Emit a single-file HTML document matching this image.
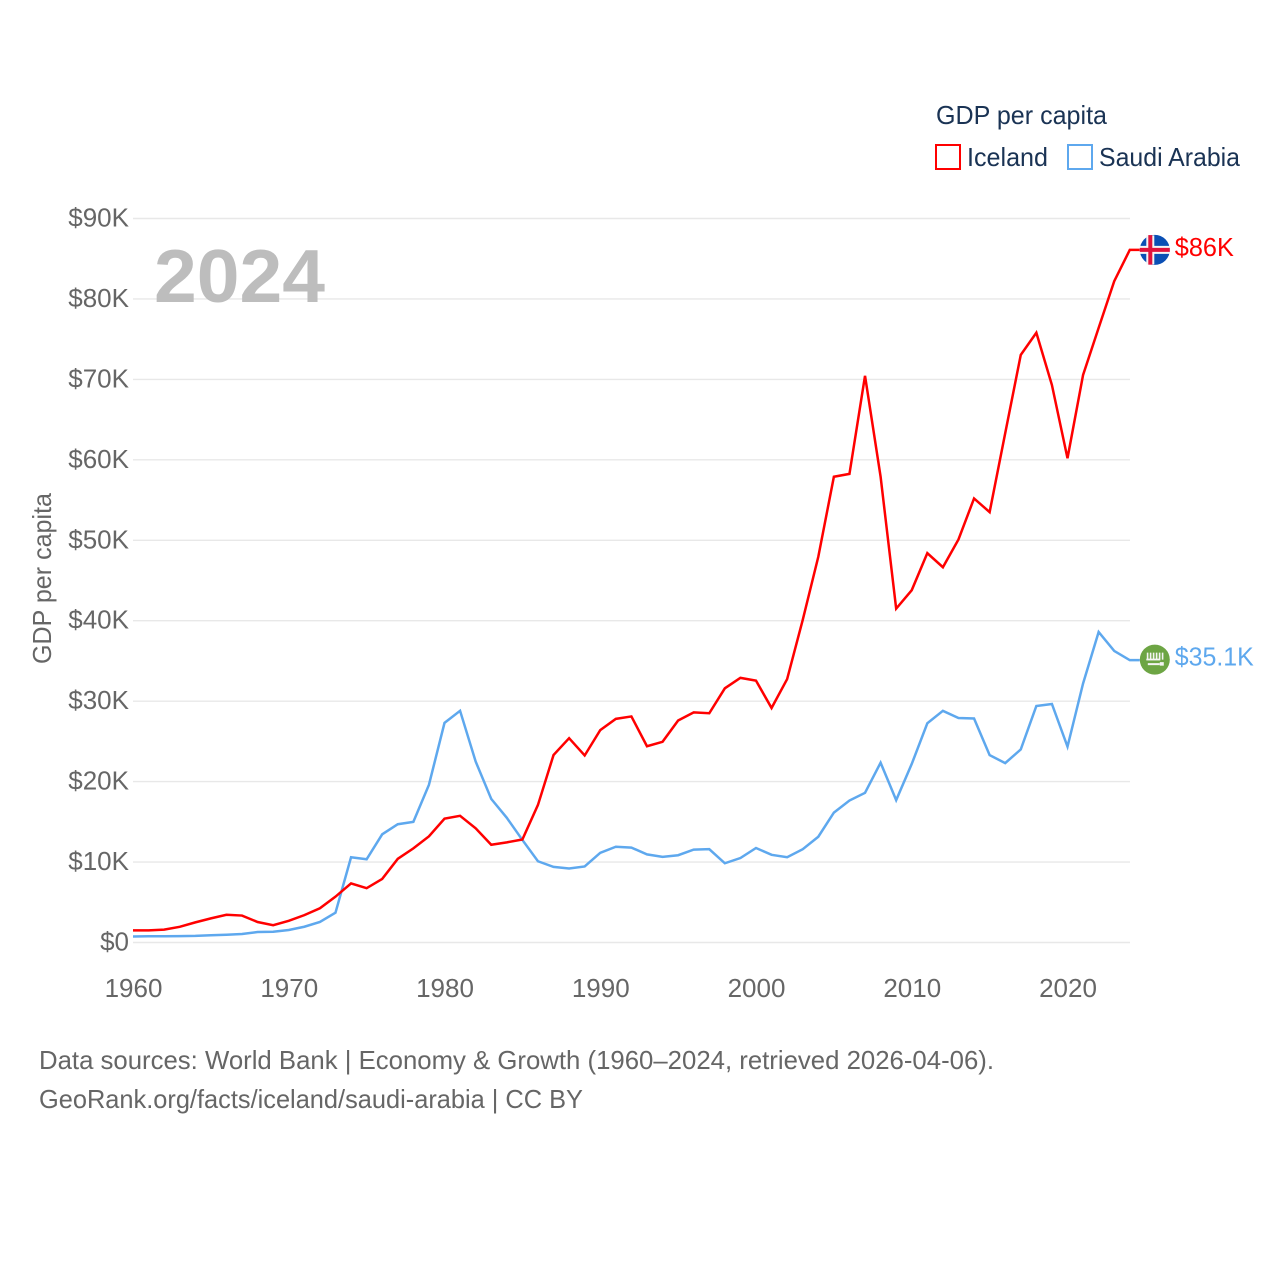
<!DOCTYPE html>
<html lang="en">
<head>
<meta charset="utf-8">
<title>GDP per capita: Iceland vs Saudi Arabia</title>
<style>
html,body{margin:0;padding:0;background:#fff;}
svg{display:block;font-family:"Liberation Sans",sans-serif;}
</style>
</head>
<body>
<svg id="chart" width="1280" height="1280" viewBox="0 0 1280 1280" xmlns="http://www.w3.org/2000/svg">
  <rect width="1280" height="1280" fill="#fff"/>
  <g id="grid"></g>
  <text x="154" y="302" font-size="75" font-weight="700" fill="#bdbdbd" textLength="171" lengthAdjust="spacingAndGlyphs">2024</text>
  <g id="yticks"></g>
  <g id="xticks"></g>
  <text transform="translate(51,664) rotate(-90)" font-size="26" fill="#666" textLength="171" lengthAdjust="spacingAndGlyphs">GDP per capita</text>
  <g id="series"></g>
  <g id="endmarks"></g>
  <g>
    <text x="936" y="124" font-size="26" fill="#1a3354" textLength="171" lengthAdjust="spacingAndGlyphs">GDP per capita</text>
    <g>
      <rect x="936" y="145" width="24" height="24" fill="#fff" stroke="#ff0000" stroke-width="2"/>
      <text x="967" y="166" font-size="26" fill="#1a3354" textLength="81" lengthAdjust="spacingAndGlyphs">Iceland</text>
    </g>
    <g>
      <rect x="1068" y="145" width="24" height="24" fill="#fff" stroke="#5ea8ee" stroke-width="2"/>
      <text x="1099" y="166" font-size="26" fill="#1a3354" textLength="141" lengthAdjust="spacingAndGlyphs">Saudi Arabia</text>
    </g>
  </g>
  <text x="39" y="1069" font-size="26" fill="#666" textLength="955" lengthAdjust="spacingAndGlyphs">Data sources: World Bank | Economy &amp; Growth (1960–2024, retrieved 2026-04-06).</text>
  <text x="39" y="1108" font-size="26" fill="#666" textLength="544" lengthAdjust="spacingAndGlyphs">GeoRank.org/facts/iceland/saudi-arabia | CC BY</text>
</svg>
<script>
const startYear = 1960;
const yTickValues = [0, 10, 20, 30, 40, 50, 60, 70, 80, 90];
const yTickLabels = ["$0", "$10K", "$20K", "$30K", "$40K", "$50K", "$60K", "$70K", "$80K", "$90K"];
const xTickValues = [1960, 1970, 1980, 1990, 2000, 2010, 2020];
const xTickLabels = ["1960", "1970", "1980", "1990", "2000", "2010", "2020"];
const icelandValues = [
  1.5, 1.5, 1.6, 1.95, 2.5, 3.0, 3.45, 3.35, 2.55, 2.15,
  2.7, 3.4, 4.25, 5.7, 7.35, 6.75, 7.9, 10.4, 11.7, 13.2,
  15.4, 15.75, 14.2, 12.15, 12.45, 12.8, 17.1, 23.3, 25.4, 23.25,
  26.4, 27.8, 28.1, 24.4, 24.95, 27.6, 28.6, 28.5, 31.6, 32.9,
  32.55, 29.15, 32.75, 40.1, 47.95, 57.9, 58.25, 70.45, 57.9, 41.5,
  43.8, 48.4, 46.65, 50.1, 55.2, 53.5, 63.3, 73.05, 75.8, 69.3,
  60.2, 70.55, 76.4, 82.2, 86.1
];
const saudiValues = [
  0.75, 0.77, 0.78, 0.79, 0.82, 0.9, 0.97, 1.05, 1.3, 1.33,
  1.55, 1.96, 2.55, 3.7, 10.6, 10.35, 13.45, 14.7, 15.0, 19.6,
  27.3, 28.8, 22.5, 17.85, 15.5, 12.75, 10.1, 9.4, 9.2, 9.45,
  11.15, 11.9, 11.8, 10.95, 10.65, 10.85, 11.55, 11.6, 9.85, 10.5,
  11.75, 10.9, 10.6, 11.6, 13.15, 16.15, 17.65, 18.6, 22.35, 17.7,
  22.2, 27.25, 28.8, 27.9, 27.85, 23.3, 22.3, 24.0, 29.4, 29.65,
  24.35, 32.2, 38.6, 36.25, 35.1
];
const icelandEndLabel = "$86K";
const saudiEndLabel = "$35.1K";

const NS = "http://www.w3.org/2000/svg";
function xScale(year) { return 133 + (year - 1960) * 15.575; }
function yScale(v) { return 942.5 - v * 8.0444; }
function make(tag, attrs, parent) {
  const el = document.createElementNS(NS, tag);
  for (const k in attrs) el.setAttribute(k, attrs[k]);
  parent.appendChild(el);
  return el;
}

const grid = document.getElementById("grid");
const yticks = document.getElementById("yticks");
yTickValues.forEach(function (v, i) {
  const line = make("line", { x1: 133, x2: 1130, y1: yScale(v), y2: yScale(v), stroke: "#e8e8e8", "stroke-width": 1.4 }, grid);
  
  
  const label = make("text", { x: 129, y: yScale(v) + 8, "text-anchor": "end", "font-size": 26, fill: "#666" }, yticks);
  
  
  label.textContent = yTickLabels[i];
});

const xticks = document.getElementById("xticks");
xTickValues.forEach(function (year, i) {
  const label = make("text", { x: xScale(year) + 0.5, y: 997, "text-anchor": "middle", "font-size": 26, fill: "#666" }, xticks);
  
  
  label.textContent = xTickLabels[i];
});

const seriesGroup = document.getElementById("series");
function drawSeries(values, color, name) {
  const pts = values.map(function (v, i) { return xScale(startYear + i).toFixed(2) + "," + yScale(v).toFixed(2); });
  const last = values.length - 1;
  pts.push((xScale(startYear + last) + 10).toFixed(2) + "," + yScale(values[last]).toFixed(2));
  const line = make("polyline", { points: pts.join(" "), fill: "none", stroke: color, "stroke-width": 2.5, "stroke-linejoin": "miter" }, seriesGroup);
  
  
}
drawSeries(saudiValues, "#5ea8ee", "saudi-arabia-line");
drawSeries(icelandValues, "#ff0000", "iceland-line");

const endmarks = document.getElementById("endmarks");
const cx = xScale(startYear + icelandValues.length - 1) + 25;

const icY = yScale(icelandValues[icelandValues.length - 1]);
const icFlag = make("g", {}, endmarks);


make("circle", { cx: cx, cy: icY, r: 15, fill: "#0a4fb4" }, icFlag);
make("rect", { x: cx - 8.5, y: icY - 14.5, width: 8, height: 29, fill: "#f4f4f4" }, icFlag);
make("rect", { x: cx - 15, y: icY - 4, width: 30, height: 8, fill: "#f4f4f4" }, icFlag);
make("rect", { x: cx - 6.5, y: icY - 14.8, width: 4, height: 29.6, fill: "#e0123c" }, icFlag);
make("rect", { x: cx - 15, y: icY - 2, width: 30, height: 4, fill: "#e0123c" }, icFlag);
const icLabel = make("text", { x: cx + 20, y: icY + 6, "font-size": 26, fill: "#ff0000", textLength: 59, lengthAdjust: "spacingAndGlyphs" }, endmarks);


icLabel.textContent = icelandEndLabel;

const saY = yScale(saudiValues[saudiValues.length - 1]) - 0.5;
const saFlag = make("g", {}, endmarks);


make("circle", { cx: cx, cy: saY, r: 15, fill: "#6da544" }, saFlag);
[-8, -5, -2, 1, 4, 7].forEach(function (dx) {
  make("rect", { x: cx + dx, y: saY - 7, width: 1.6, height: 7, fill: "#f4f4f4" }, saFlag);
});
make("rect", { x: cx - 8.5, y: saY - 1, width: 14, height: 1.8, fill: "#f4f4f4" }, saFlag);
make("rect", { x: cx - 7, y: saY + 3.5, width: 12, height: 2, fill: "#f4f4f4" }, saFlag);
make("rect", { x: cx + 5, y: saY + 2.5, width: 4, height: 3.5, fill: "#f4f4f4" }, saFlag);
const saLabel = make("text", { x: cx + 20, y: saY + 6, "font-size": 26, fill: "#5ea8ee", textLength: 79, lengthAdjust: "spacingAndGlyphs" }, endmarks);


saLabel.textContent = saudiEndLabel;
</script>
</body>
</html>
